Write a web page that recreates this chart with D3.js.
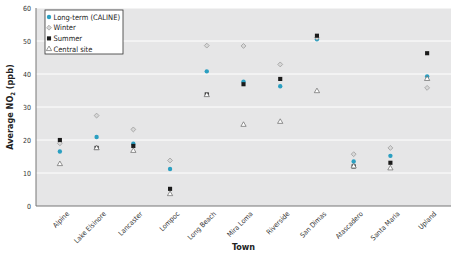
<!DOCTYPE html>
<html>
<head>
<meta charset="utf-8">
<script src="https://cdn.jsdelivr.net/npm/d3@7"></script>
<style>
  body { margin: 0; background: #fff; }
  text { font-family: "DejaVu Sans Condensed", "Liberation Sans Narrow", sans-serif; font-stretch: condensed; }
</style>
</head>
<body>
<svg id="chart" width="457" height="256"></svg>
<script>
const towns = ['Alpine', 'Lake Elsinore', 'Lancaster', 'Lompoc', 'Long Beach', 'Mira Loma',
  'Riverside', 'San Dimas', 'Atascadero', 'Santa Maria', 'Upland'];
const longTerm = [16.5, 20.9, 18.9, 11.2, 40.8, 37.7, 36.3, 50.5, 13.5, 15.2, 39.3];
const winter = [19.0, 27.4, 23.2, 13.8, 48.6, 48.5, 42.9, 51.0, 15.7, 17.6, 35.8];
const summer = [20.0, 17.6, 18.2, 5.2, 33.8, 36.9, 38.5, 51.6, 12.0, 13.1, 46.3];
const central = [12.7, 17.5, 16.7, 3.6, 33.6, 24.6, 25.5, 34.8, 12.0, 11.4, 38.5];
const yTicks = [0, 10, 20, 30, 40, 50, 60];

const series = [
  { name: 'Long-term (CALINE)', values: longTerm, type: d3.symbolCircle, size: 15, rot: 0, fill: '#2b9fc1', stroke: 'none' },
  { name: 'Winter', values: winter, type: d3.symbolSquare, size: 12, rot: 45, fill: '#d8d8d8', stroke: '#999' },
  { name: 'Summer', values: summer, type: d3.symbolSquare, size: 17, rot: 0, fill: '#1b1b1b', stroke: 'none' },
  { name: 'Central site', values: central, type: d3.symbolTriangle, size: 12, rot: 0, fill: '#ffffff', stroke: '#666' },
];

const svg = d3.select('#chart');
const margin = { top: 8, right: 6, bottom: 50, left: 36 };
const width = 457 - margin.left - margin.right;
const height = 256 - margin.top - margin.bottom;

const g = svg.append('g').attr('transform', `translate(${margin.left},${margin.top})`);

const x = d3.scalePoint(towns, [0, width]).padding(0.65);
const y = d3.scaleLinear([0, 60], [height, 0]);

g.append('rect')
  .attr('width', width)
  .attr('height', height)
  .attr('fill', '#e6e6e7');

g.selectAll('line.grid')
  .data(yTicks.filter((d) => d > 0))
  .join('line')
  .attr('class', 'grid')
  .attr('x1', 0)
  .attr('x2', width)
  .attr('y1', (d) => y(d))
  .attr('y2', (d) => y(d))
  .attr('stroke', '#fff')
  .attr('stroke-width', 1);

const yAxis = g.append('g')
  .call(d3.axisLeft(y).tickValues(yTicks).tickSize(0).tickPadding(5));
yAxis.select('.domain').remove();
yAxis.selectAll('text').attr('font-size', 7).attr('fill', '#333');

g.append('line')
  .attr('x1', 0).attr('x2', 0)
  .attr('y1', 0).attr('y2', height)
  .attr('stroke', '#777');
g.append('line')
  .attr('x1', 0).attr('x2', width)
  .attr('y1', height).attr('y2', height)
  .attr('stroke', '#777');

const xAxis = g.append('g')
  .attr('transform', `translate(0,${height})`)
  .call(d3.axisBottom(x).tickSize(0).tickPadding(4));
xAxis.select('.domain').remove();
xAxis.selectAll('text')
  .attr('font-size', 7)
  .attr('fill', '#333')
  .attr('text-anchor', 'end')
  .attr('dy', '0.5em')
  .attr('transform', 'translate(4,3) rotate(-45)');

const symbol = d3.symbol();
series.forEach((s) => {
  g.append('g')
    .selectAll('path')
    .data(s.values)
    .join('path')
    .attr('d', symbol.type(s.type).size(s.size))
    .attr('transform', (d, i) => `translate(${x(towns[i])},${y(d)}) rotate(${s.rot})`)
    .attr('fill', s.fill)
    .attr('stroke', s.stroke)
    .attr('stroke-width', 0.7);
});

// legend
const legend = g.append('g').attr('transform', 'translate(9,2)');
const box = legend.append('rect')
  .attr('height', 44)
  .attr('fill', '#fff')
  .attr('stroke', '#333')
  .attr('stroke-width', 0.8);
let maxText = 0;
series.forEach((s, i) => {
  const row = legend.append('g').attr('transform', `translate(4,${7 + i * 10.7})`);
  row.append('path')
    .attr('d', symbol.type(s.type).size(s.size))
    .attr('transform', `rotate(${s.rot})`)
    .attr('fill', s.fill)
    .attr('stroke', s.stroke)
    .attr('stroke-width', 0.7);
  const t = row.append('text')
    .attr('x', 4.5)
    .attr('dy', '0.35em')
    .attr('font-size', 7.5)
    .attr('fill', '#222')
    .text(s.name);
  maxText = Math.max(maxText, t.node().getComputedTextLength());
});
box.attr('width', Math.max(78, maxText + 11));

// axis titles
svg.append('text')
  .attr('transform', `translate(13,${margin.top + height / 2}) rotate(-90)`)
  .attr('text-anchor', 'middle')
  .attr('font-size', 9)
  .attr('font-weight', 'bold')
  .attr('fill', '#222')
  .call((t) => {
    t.append('tspan').text('Average NO');
    t.append('tspan').attr('font-size', 6).attr('dy', 2).text('2');
    t.append('tspan').attr('dy', -2).text(' (ppb)');
  });

svg.append('text')
  .attr('x', margin.left + width / 2)
  .attr('y', 250)
  .attr('text-anchor', 'middle')
  .attr('font-size', 9)
  .attr('font-weight', 'bold')
  .attr('fill', '#222')
  .text('Town');
</script>
</body>
</html>
